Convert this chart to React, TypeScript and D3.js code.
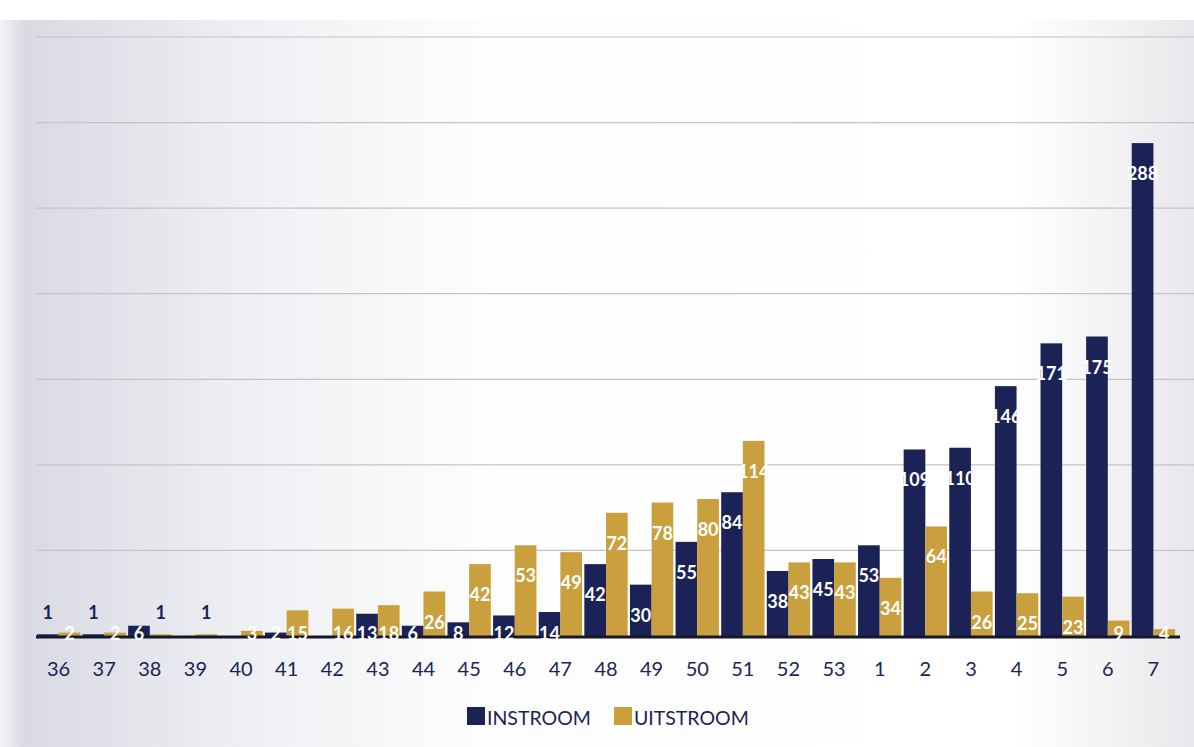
import React from "react";
import * as d3 from "d3";

const categories = ["36","37","38","39","40","41","42","43","44","45","46","47","48","49","50","51","52","53","1","2","3","4","5","6","7"];
const instroom = [1,1,6,0,0,2,0,13,6,8,12,14,42,30,55,84,38,45,53,109,110,146,171,175,288];
const uitstroom = [2,2,1,1,3,15,16,18,26,42,53,49,72,78,80,114,43,43,34,64,26,25,23,9,4];
const seriesNames = ["INSTROOM","UITSTROOM"];
const gridTicks = [50,100,150,200,250,300,350];

const W = 1194, H = 747;
const NAVY = "#1b2356";
const GOLD = "#c9a03d";
const FONT = "Lato, 'Open Sans', sans-serif";

export default function App() {
  const baseline = 636;
  const y = d3.scaleLinear().domain([0, 350]).range([baseline, 37]);
  const x = d3.scaleBand<string>().domain(categories).range([36, 1176]).paddingInner(0.05).paddingOuter(0.02);
  const xs = d3.scaleBand<string>().domain(seriesNames).range([0, x.bandwidth()]).padding(0);
  const colors = [NAVY, GOLD];
  const data = [instroom, uitstroom];

  return (
    <svg width={W} height={H} style={{ position: "absolute", left: 0, top: 0 }} fontFamily={FONT}>
      <defs>
        <linearGradient id="bg" x1="0" x2="1" y1="0" y2="0">
          <stop offset="0" stopColor="#f4f4f6" />
          <stop offset="0.02" stopColor="#d9dae2" />
          <stop offset="0.2" stopColor="#eeeff3" />
          <stop offset="0.4" stopColor="#fdfdfd" />
          <stop offset="0.85" stopColor="#ffffff" />
          <stop offset="1" stopColor="#e8e8ec" />
        </linearGradient>
      </defs>
      <rect x={0} y={0} width={W} height={H} fill="url(#bg)" />
      <rect x={0} y={0} width={W} height={20} fill="#ffffff" />
      {gridTicks.map((t) => (
        <line key={t} x1={36} x2={W} y1={y(t)} y2={y(t)} stroke="#c4c4c8" strokeWidth={1.2} />
      ))}
      {data.map((vals, si) =>
        vals.map((v, i) => {
          const cx = (x(categories[i]) ?? 0) + (xs(seriesNames[si]) ?? 0);
          const w = xs.bandwidth();
          const top = y(v);
          return v > 0 ? (
            <rect key={`b${si}-${i}`} x={cx} y={top} width={w} height={baseline - top} fill={colors[si]} />
          ) : null;
        })
      )}
      <line x1={36} x2={1180} y1={baseline + 1} y2={baseline + 1} stroke="#15182a" strokeWidth={3} />
      {data.map((vals, si) =>
        vals.map((v, i) => {
          if (v <= 0) return null;
          const cx = (x(categories[i]) ?? 0) + (xs(seriesNames[si]) ?? 0) + xs.bandwidth() / 2;
          const top = y(v);
          if (v === 1) {
            return (
              <text key={`l${si}-${i}`} x={cx} y={baseline - 24} textAnchor="middle" dominantBaseline="central"
                fontSize={18} fontWeight={700} fill={NAVY}>{v}</text>
            );
          }
          const ly = Math.min(top + 30, baseline - 3);
          return (
            <text key={`l${si}-${i}`} x={cx} y={ly} textAnchor="middle" dominantBaseline="central"
              fontSize={18} fontWeight={700} fill="#ffffff">{v}</text>
          );
        })
      )}
      {categories.map((c) => (
        <text key={`x${c}`} x={(x(c) ?? 0) + x.bandwidth() / 2} y={668} textAnchor="middle" dominantBaseline="central"
          fontSize={20} fill={NAVY}>{c}</text>
      ))}
      <g>
        <rect x={467} y={707} width={18} height={18} fill={NAVY} />
        <text x={487} y={717} dominantBaseline="central" fontSize={19.5} fill={NAVY}>{seriesNames[0]}</text>
        <rect x={614} y={707} width={18} height={18} fill={GOLD} />
        <text x={634} y={717} dominantBaseline="central" fontSize={19.5} fill={NAVY}>{seriesNames[1]}</text>
      </g>
    </svg>
  );
}
